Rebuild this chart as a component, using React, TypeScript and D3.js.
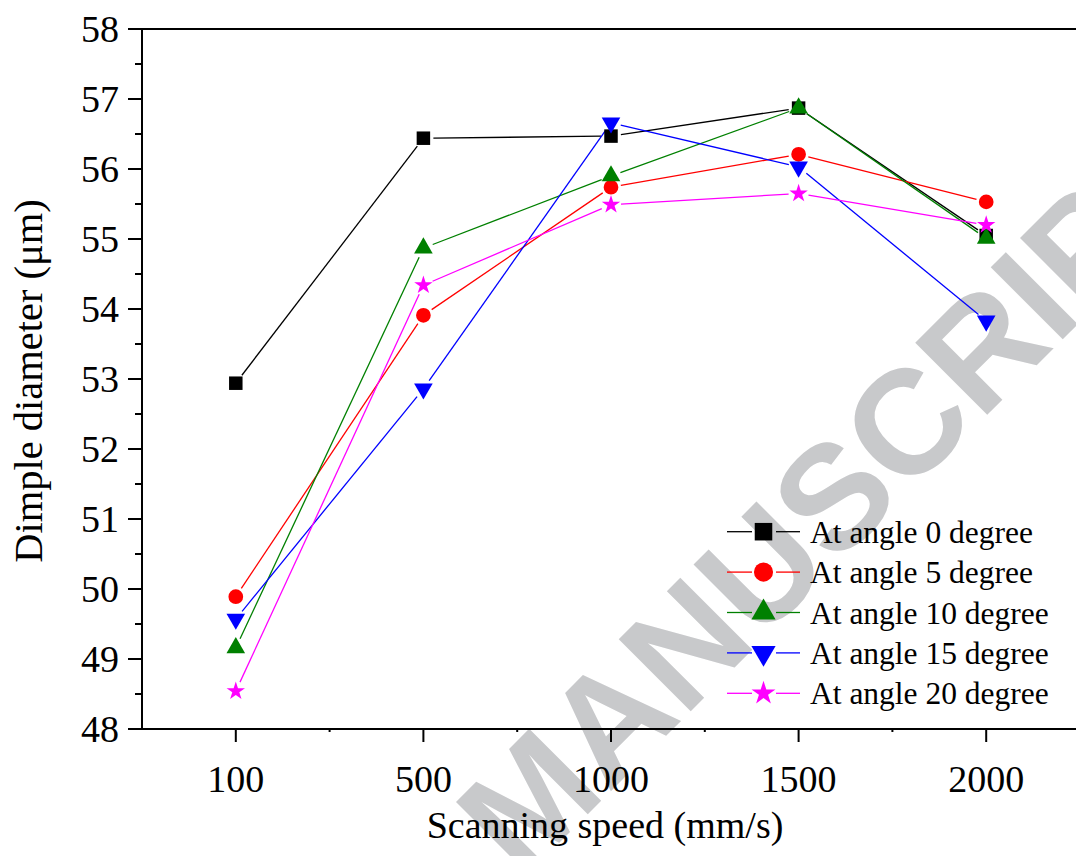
import React from "react";
import * as d3 from "d3";

const categories = ["100", "500", "1000", "1500", "2000"];
const yTicks = [48, 49, 50, 51, 52, 53, 54, 55, 56, 57, 58];
const seriesNames = [
  "At angle 0 degree",
  "At angle 5 degree",
  "At angle 10 degree",
  "At angle 15 degree",
  "At angle 20 degree",
];
const angle0 = [52.94, 56.44, 56.47, 56.87, 55.05];
const angle5 = [49.89, 53.91, 55.74, 56.21, 55.53];
const angle10 = [49.16, 54.87, 55.9, 56.87, 55.01];
const angle15 = [49.57, 52.86, 56.66, 56.03, 53.83];
const angle20 = [48.54, 54.34, 55.49, 55.65, 55.2];
const colors = ["#000000", "#ff0000", "#008000", "#0000ff", "#ff00ff"];
const shapes = ["square", "circle", "triangle", "down", "star"];

const W = 1076;
const H = 856;
const FONT = "'Liberation Serif', 'Times New Roman', serif";

function symbolPath(shape: string, scale: number) {
  let type: any = d3.symbolSquare;
  let size = 182;
  if (shape === "circle") { type = d3.symbolCircle; size = 170; }
  if (shape === "triangle" || shape === "down") { type = d3.symbolTriangle; size = 150; }
  if (shape === "star") { type = d3.symbolStar; size = 105; }
  return d3.symbol().type(type).size(size * scale * scale)() as string;
}

function Marker({ shape, x, y, color, scale = 1 }: any) {
  const rot = shape === "down" ? 180 : 0;
  return (
    <path
      d={symbolPath(shape, scale)}
      transform={`translate(${x},${y}) rotate(${rot})`}
      fill={color}
    />
  );
}

export default function App() {
  const x = d3.scaleLinear().domain([-0.5, 4.5]).range([142, 1080]);
  const y = d3.scaleLinear().domain([48, 58]).range([729, 29]);
  const data = [angle0, angle5, angle10, angle15, angle20];
  const gap = 10;

  const minorY = d3.range(48.5, 58, 1);
  const minorX = d3.range(0.5, 4.5, 1);

  // watermark geometry: M left baseline point
  const wmX = 521;
  const wmY = 881;
  const wmFs = 148;

  return (
    <svg
      width={W}
      height={H}
      style={{ position: "absolute", left: 0, top: 0, background: "#fff" }}
      fontFamily={FONT}
    >
      <rect x={0} y={0} width={W} height={H} fill="#fff" />
      {/* watermark */}
      <g transform={`translate(${wmX},${wmY}) rotate(-45)`} fill="#c8c9cb"
         fontFamily="'Liberation Sans', Arial, sans-serif" fontWeight="bold" fontSize={wmFs}>
        <text x={-0.278 * wmFs} y={0} textAnchor="end">ACCEPTED</text>
        <text x={0} y={0} textAnchor="start">MANUSCRIPT</text>
      </g>

      {/* series lines with gaps */}
      {data.map((vals, si) => (
        <g key={"l" + si} stroke={colors[si]} strokeWidth={1.3} fill="none">
          {vals.slice(1).map((v, i) => {
            const x1 = x(i), y1 = y(vals[i]);
            const x2 = x(i + 1), y2 = y(v);
            const dx = x2 - x1, dy = y2 - y1;
            const len = Math.sqrt(dx * dx + dy * dy);
            const ux = dx / len, uy = dy / len;
            return (
              <line key={i}
                x1={x1 + ux * gap} y1={y1 + uy * gap}
                x2={x2 - ux * gap} y2={y2 - uy * gap} />
            );
          })}
        </g>
      ))}
      {/* markers */}
      {data.map((vals, si) => (
        <g key={"m" + si}>
          {vals.map((v, i) => (
            <Marker key={i} shape={shapes[si]} x={x(i)} y={y(v)} color={colors[si]} />
          ))}
        </g>
      ))}

      {/* axes */}
      <g stroke="#000" strokeWidth={2} fill="none">
        <line x1={142} y1={29} x2={142} y2={730} />
        <line x1={141} y1={729} x2={1080} y2={729} />
        <line x1={141} y1={29} x2={1080} y2={29} />
        {yTicks.map((t) => (
          <line key={"yt" + t} x1={128} y1={y(t)} x2={142} y2={y(t)} />
        ))}
        {minorY.map((t) => (
          <line key={"ym" + t} x1={135} y1={y(t)} x2={142} y2={y(t)} />
        ))}
        {categories.map((c, i) => (
          <line key={"xt" + c} x1={x(i)} y1={729} x2={x(i)} y2={742} />
        ))}
        {minorX.map((t) => (
          <line key={"xm" + t} x1={x(t)} y1={729} x2={x(t)} y2={732} />
        ))}
      </g>

      {/* tick labels */}
      <g fontSize={38} fill="#000">
        {yTicks.map((t) => (
          <text key={"yl" + t} x={119} y={y(t) + 13} textAnchor="end">{t}</text>
        ))}
        {categories.map((c, i) => (
          <text key={"xl" + c} x={x(i)} y={792} textAnchor="middle">{c}</text>
        ))}
      </g>

      {/* axis titles */}
      <text x={605} y={838} textAnchor="middle" fontSize={38}>Scanning speed (mm/s)</text>
      <text transform="translate(42,381) rotate(-90)" textAnchor="middle" fontSize={40.5}>
        Dimple diameter (μm)
      </text>

      {/* legend */}
      {seriesNames.map((name, i) => {
        const cy = 531.7 + i * 40.4;
        return (
          <g key={"lg" + i}>
            <line x1={727} y1={cy} x2={752} y2={cy} stroke={colors[i]} strokeWidth={1.3} />
            <line x1={776} y1={cy} x2={800} y2={cy} stroke={colors[i]} strokeWidth={1.3} />
            <Marker shape={shapes[i]} x={763.5} y={cy} color={colors[i]} scale={1.3} />
            <text x={810} y={cy + 11} fontSize={31.5}>{name}</text>
          </g>
        );
      })}
    </svg>
  );
}
